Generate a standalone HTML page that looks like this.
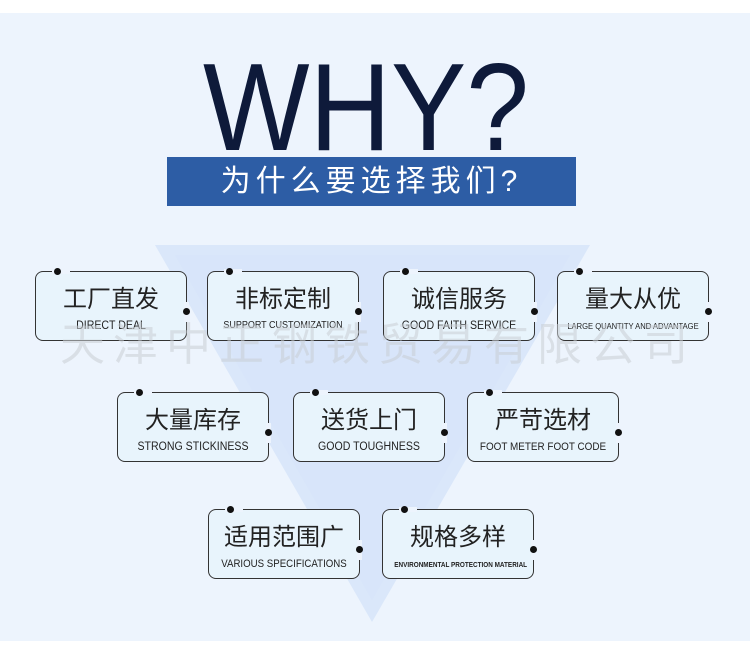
<!DOCTYPE html>
<html><head><meta charset="utf-8"><style>
*{margin:0;padding:0;box-sizing:border-box}
body{width:750px;height:657px;background:#fff;position:relative;overflow:hidden;font-family:"Liberation Sans","Noto Sans CJK SC",sans-serif}
#bg{position:absolute;left:0;top:13px;width:750px;height:628px;background:#edf4fd}
.wm{position:absolute;left:60px;top:308px;width:640px;font-size:45px;color:rgba(200,205,212,0.55);letter-spacing:8px;white-space:nowrap;z-index:3}
.why{position:absolute;left:203px;top:46px;font-size:124px;color:#0e1a3a;font-weight:300;line-height:1;transform:scaleX(0.91);transform-origin:left top;white-space:nowrap}
.ban{position:absolute;left:167px;top:157px;width:409px;height:49px;background:#2d5da5;color:#fff;font-size:30px;text-align:center;line-height:49px;letter-spacing:5px}
.b{position:absolute;width:152px;height:70px;border:1.5px solid #333;border-radius:8px;background:#e8f4fc;text-align:center;z-index:2}
.b .c{font-size:24px;color:#222;margin-top:13px;line-height:30px}
.b .e{font-size:11.5px;color:#222;margin-top:5px;white-space:nowrap;transform:scaleX(0.92)}
.b:before{content:"";position:absolute;left:16px;top:-3px;width:18px;height:5px;background:#edf4fd}
.b:after{content:"";position:absolute;right:-3px;top:30px;width:5px;height:20px;background:#edf4fd}
.d1,.d2{position:absolute;width:7px;height:7px;border-radius:50%;background:#111;z-index:4}
</style></head><body>
<div id="bg"></div>
<svg style="position:absolute;left:0;top:0" width="750" height="657"><polygon points="155,245 590,245 372,622" fill="#dae7fa"/><polygon points="175,255 570,255 372,600" fill="#d5e4f9" opacity="0.5"/></svg>
<div class="why">WHY?</div>
<div class="ban">为什么要选择我们?</div>
<div class="wm">天津中正钢铁贸易有限公司</div>

<div class="b" style="left:35px;top:271px"><div class="c">工厂直发</div><div class="e">DIRECT DEAL</div></div>
<div class="b" style="left:207px;top:271px"><div class="c">非标定制</div><div class="e" style="font-size:10px;transform:scaleX(0.9)">SUPPORT CUSTOMIZATION</div></div>
<div class="b" style="left:383px;top:271px"><div class="c">诚信服务</div><div class="e">GOOD FAITH SERVICE</div></div>
<div class="b" style="left:557px;top:271px"><div class="c">量大从优</div><div class="e" style="font-size:8px;margin-top:7px;transform:scaleX(0.95)">LARGE QUANTITY AND ADVANTAGE</div></div>
<div class="b" style="left:117px;top:392px"><div class="c">大量库存</div><div class="e">STRONG STICKINESS</div></div>
<div class="b" style="left:293px;top:392px"><div class="c">送货上门</div><div class="e">GOOD TOUGHNESS</div></div>
<div class="b" style="left:467px;top:392px"><div class="c">严苛选材</div><div class="e" style="font-size:11px;transform:scaleX(0.9)">FOOT METER FOOT CODE</div></div>
<div class="b" style="left:208px;top:509px"><div class="c">适用范围广</div><div class="e" style="font-size:11px;transform:scaleX(0.88)">VARIOUS SPECIFICATIONS</div></div>
<div class="b" style="left:382px;top:509px"><div class="c">规格多样</div><div class="e" style="font-size:7.5px;margin-top:7px;font-weight:bold;transform:scaleX(0.85)">ENVIRONMENTAL PROTECTION MATERIAL</div></div>

<div class="d1" style="left:54px;top:268px"></div><div class="d2" style="left:183px;top:308px"></div>
<div class="d1" style="left:226px;top:268px"></div><div class="d2" style="left:355px;top:308px"></div>
<div class="d1" style="left:402px;top:268px"></div><div class="d2" style="left:531px;top:308px"></div>
<div class="d1" style="left:576px;top:268px"></div><div class="d2" style="left:705px;top:308px"></div>
<div class="d1" style="left:136px;top:389px"></div><div class="d2" style="left:265px;top:429px"></div>
<div class="d1" style="left:312px;top:389px"></div><div class="d2" style="left:441px;top:429px"></div>
<div class="d1" style="left:486px;top:389px"></div><div class="d2" style="left:615px;top:429px"></div>
<div class="d1" style="left:227px;top:506px"></div><div class="d2" style="left:356px;top:546px"></div>
<div class="d1" style="left:401px;top:506px"></div><div class="d2" style="left:530px;top:546px"></div>
</body></html>
